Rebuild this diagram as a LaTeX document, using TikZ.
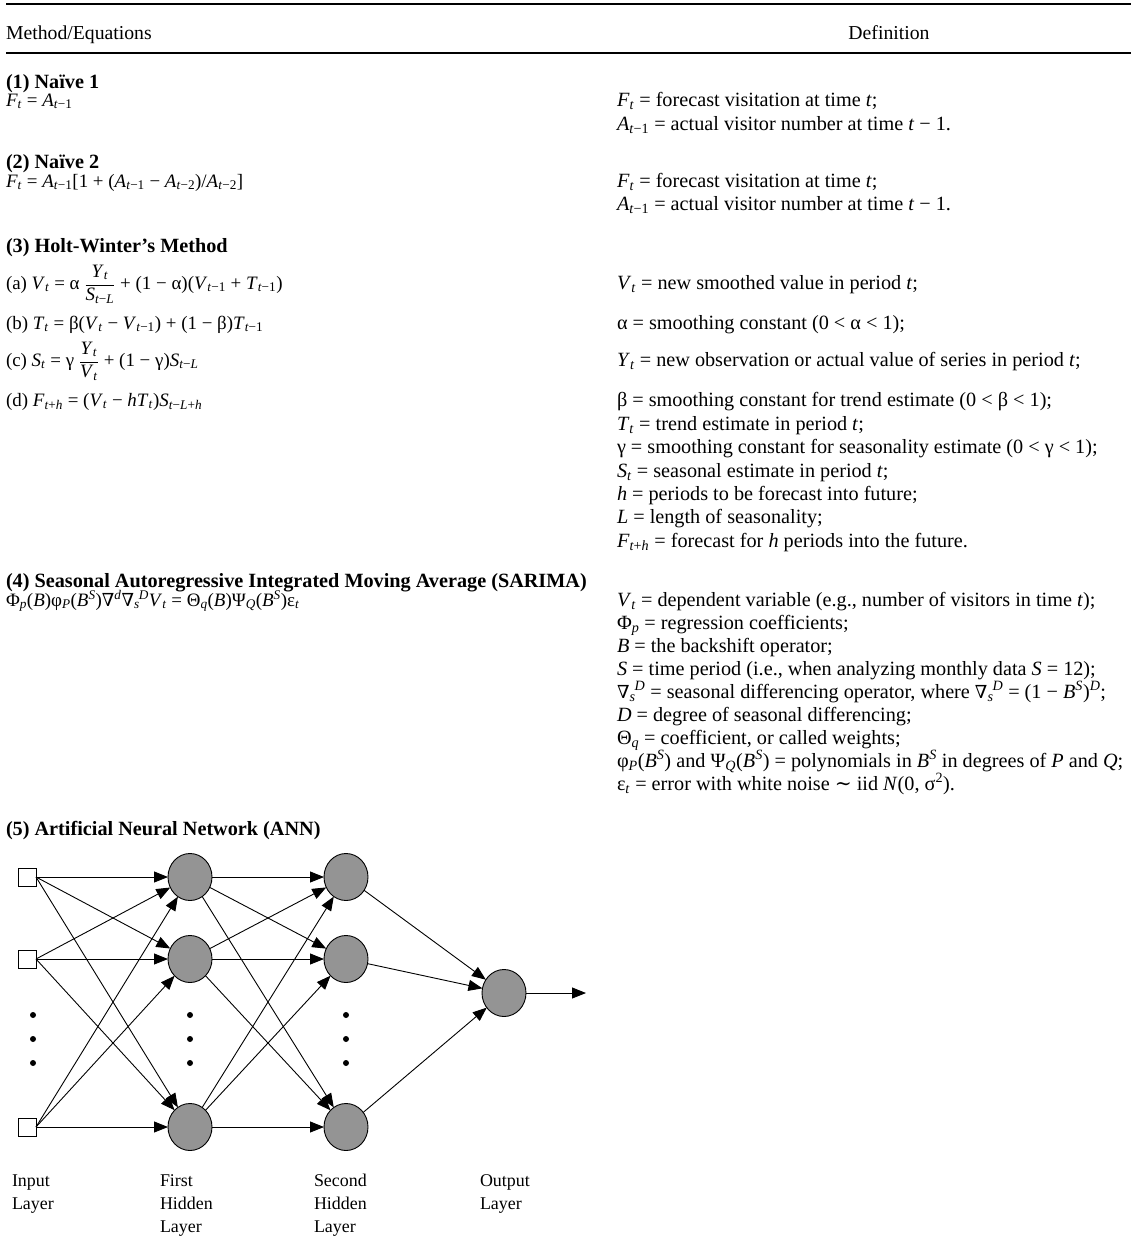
\documentclass[tikz,border=0pt]{standalone}
\usepackage{fontspec}
\setmainfont{Liberation Serif}
\newfontfamily\dvs{DejaVu Serif}
\usetikzlibrary{arrows.meta,shapes.geometric}
\newcommand{\iv}[1]{\textit{#1}}
\newcommand{\sbs}[1]{\textsubscript{#1}}
\newcommand{\sps}[1]{\textsuperscript{#1}}
\newcommand{\nab}{{\dvs\fontsize{18}{18}\selectfont ∇}}
\newcommand{\sdop}{\nab\sbs{\iv{s}}\kern-0.05em\sps{\iv{D}}}
\newcommand{\frc}[2]{$\displaystyle\frac{\hbox{#1}}{\hbox{#2}}$}
\begin{document}
\begin{tikzpicture}[x=1bp,y=-1bp,
  every node/.style={inner sep=0pt, outer sep=0pt, anchor=base west, font=\fontsize{19}{22}\selectfont},
  hd/.style={font=\fontsize{20.3}{23}\selectfont\bfseries},
  colh/.style={font=\fontsize{19.8}{23}\selectfont},
  df/.style={font=\fontsize{20.3}{23}\selectfont},
  rul/.style={line width=2bp},
  neuron/.style={ellipse, draw=black, line width=0.9bp, fill=black!42, minimum width=44bp, minimum height=47bp, anchor=center},
  inbox/.style={rectangle, draw=black, line width=0.9bp, fill=white, minimum size=18bp, anchor=center},
  dotn/.style={circle, fill=black, minimum size=6bp, anchor=center},
  lab/.style={font=\fontsize{18}{20}\selectfont, anchor=base west},
  ar/.style={-{Triangle[length=14bp,width=11bp]}, line width=0.9bp}]
\useasboundingbox (0,0) rectangle (1137,1244);
\fill[white] (0,0) rectangle (1137,1244);
% rules
\draw[rul] (6,4) -- (1131,4);
\draw[rul] (6,53) -- (1131,53);
\node[colh] (hm) at (6,39) {Method/Equations};
\node[colh, anchor=base] (hdef) at (889,39) {Definition};
% (1)
\node[hd] (n1) at (6,88) {(1) Naïve 1};
\node (e1) at (6,106) {\iv{F}\sbs{\iv{t}} = \iv{A}\sbs{\iv{t}−1}};
\node[df] (d1a) at (617,106) {\iv{F}\sbs{\iv{t}} = forecast visitation at time \iv{t};};
\node[df] (d1b) at (617,130) {\iv{A}\sbs{\iv{t}−1} = actual visitor number at time \iv{t} − 1.};
% (2)
\node[hd] (n2) at (6,168) {(2) Naïve 2};
\node (e2) at (6,187) {\iv{F}\sbs{\iv{t}} = \iv{A}\sbs{\iv{t}−1}[1 + (\iv{A}\sbs{\iv{t}−1} − \iv{A}\sbs{\iv{t}−2})/\iv{A}\sbs{\iv{t}−2}]};
\node[df] (d2a) at (617,187) {\iv{F}\sbs{\iv{t}} = forecast visitation at time \iv{t};};
\node[df] (d2b) at (617,210) {\iv{A}\sbs{\iv{t}−1} = actual visitor number at time \iv{t} − 1.};
% (3)
\node[hd] (n3) at (6,252) {(3) Holt-Winter’s Method};
\node (e3a) at (6,289) {(a) \iv{V}\sbs{\iv{t}} = α \frc{\iv{Y}\sbs{\iv{t}}}{\iv{S}\sbs{\iv{t}−\iv{L}}} + (1 − α)(\iv{V}\sbs{\iv{t}−1} + \iv{T}\sbs{\iv{t}−1})};
\node (e3b) at (6,329) {(b) \iv{T}\sbs{\iv{t}} = β(\iv{V}\sbs{\iv{t}} − \iv{V}\sbs{\iv{t}−1}) + (1 − β)\iv{T}\sbs{\iv{t}−1}};
\node (e3c) at (6,366) {(c) \iv{S}\sbs{\iv{t}} = γ \frc{\iv{Y}\sbs{\iv{t}}}{\iv{V}\sbs{\iv{t}}} + (1 − γ)\iv{S}\sbs{\iv{t}−\iv{L}}};
\node (e3d) at (6,406) {(d) \iv{F}\sbs{\iv{t}+\iv{h}} = (\iv{V}\sbs{\iv{t}} − \iv{hT}\sbs{\iv{t}})\iv{S}\sbs{\iv{t}−\iv{L}+\iv{h}}};
\node[df] (d3a) at (617,289) {\iv{V}\sbs{\iv{t}} = new smoothed value in period \iv{t};};
\node[df] (d3b) at (617,329) {α = smoothing constant (0 < α < 1);};
\node[df] (d3c) at (617,366) {\iv{Y}\sbs{\iv{t}} = new observation or actual value of series in period \iv{t};};
\node[df] (d3d) at (617,406) {β = smoothing constant for trend estimate (0 < β < 1);};
\node[df] (d3e) at (617,430) {\iv{T}\sbs{\iv{t}} = trend estimate in period \iv{t};};
\node[df] (d3f) at (617,453) {γ = smoothing constant for seasonality estimate (0 < γ < 1);};
\node[df] (d3g) at (617,477) {\iv{S}\sbs{\iv{t}} = seasonal estimate in period \iv{t};};
\node[df] (d3h) at (617,500) {\iv{h} = periods to be forecast into future;};
\node[df] (d3i) at (617,523) {\iv{L} = length of seasonality;};
\node[df] (d3j) at (617,547) {\iv{F}\sbs{\iv{t}+\iv{h}} = forecast for \iv{h} periods into the future.};
% (4)
\node[hd] (n4) at (6,587) {(4) Seasonal Autoregressive Integrated Moving Average (SARIMA)};
\node (e4) at (6,606) {Φ\sbs{\iv{p}}(\iv{B})φ\sbs{\iv{P}}(\iv{B}\sps{\iv{S}})\nab\sps{\iv{d}}\sdop\iv{V}\sbs{\iv{t}} = Θ\sbs{\iv{q}}(\iv{B})Ψ\sbs{\iv{Q}}(\iv{B}\sps{\iv{S}})ε\sbs{\iv{t}}};
\node[df] (d4a) at (617,606) {\iv{V}\sbs{\iv{t}} = dependent variable (e.g., number of visitors in time \iv{t});};
\node[df] (d4b) at (617,629) {Φ\sbs{\iv{p}} = regression coefficients;};
\node[df] (d4c) at (617,652) {\iv{B} = the backshift operator;};
\node[df] (d4d) at (617,675) {\iv{S} = time period (i.e., when analyzing monthly data \iv{S} = 12);};
\node[df] (d4e) at (617,698) {\sdop\ = seasonal differencing operator, where \sdop\ = (1 − \iv{B}\sps{\iv{S}})\sps{\iv{D}};};
\node[df] (d4f) at (617,721) {\iv{D} = degree of seasonal differencing;};
\node[df] (d4g) at (617,744) {Θ\sbs{\iv{q}} = coefficient, or called weights;};
\node[df] (d4h) at (617,767) {φ\sbs{\iv{P}}(\iv{B}\sps{\iv{S}}) and Ψ\sbs{\iv{Q}}(\iv{B}\sps{\iv{S}}) = polynomials in \iv{B}\sps{\iv{S}} in degrees of \iv{P} and \iv{Q};};
\node[df] (d4i) at (617,790) {ε\sbs{\iv{t}} = error with white noise {\dvs ∼} iid \iv{N}(0, σ\sps{2}).};
% (5)
\node[hd] (n5) at (6,835) {(5) Artificial Neural Network (ANN)};
% ANN
\node[inbox] (s1) at (27,877) {};
\node[inbox] (s2) at (27,959) {};
\node[inbox] (s3) at (27,1127) {};
\node[neuron] (h1) at (190,877) {};
\node[neuron] (h2) at (190,959) {};
\node[neuron] (h3) at (190,1127) {};
\node[neuron] (g1) at (346,877) {};
\node[neuron] (g2) at (346,959) {};
\node[neuron] (g3) at (346,1127) {};
\node[neuron] (o) at (504,993) {};
\coordinate (oe) at (586,993);
\foreach \xx/\nm in {33/a,190/b,346/c}{
  \foreach \yy/\k in {1015/1,1039/2,1063/3}{
    \node[dotn] (dot\nm\k) at (\xx,\yy) {};
  }
}
\foreach \i in {1,2,3}{
  \foreach \j in {1,2,3}{
    \draw[ar] (s\i.east) -- (h\j);
    \draw[ar] (h\i) -- (g\j);
  }
  \draw[ar] (g\i) -- (o);
}
\draw[ar] (o) -- (oe);
\node[lab] (l1a) at (12,1186) {Input};
\node[lab] (l1b) at (12,1209) {Layer};
\node[lab] (l2a) at (160,1186) {First};
\node[lab] (l2b) at (160,1209) {Hidden};
\node[lab] (l2c) at (160,1232) {Layer};
\node[lab] (l3a) at (314,1186) {Second};
\node[lab] (l3b) at (314,1209) {Hidden};
\node[lab] (l3c) at (314,1232) {Layer};
\node[lab] (l4a) at (480,1186) {Output};
\node[lab] (l4b) at (480,1209) {Layer};
\end{tikzpicture}
\end{document}
